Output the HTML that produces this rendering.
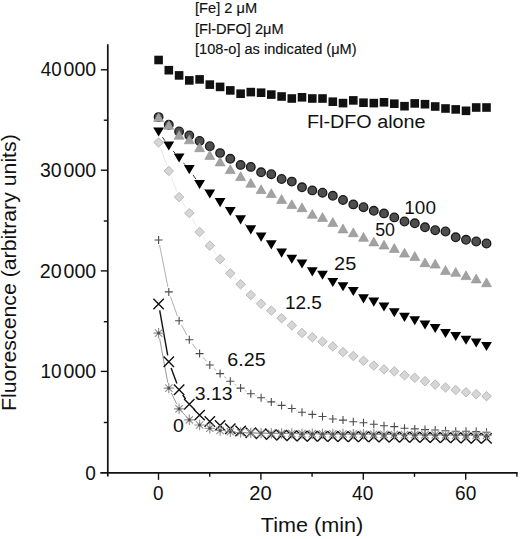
<!DOCTYPE html>
<html><head><meta charset="utf-8"><title>Fluorescence chart</title>
<style>
html,body{margin:0;padding:0;background:#fff;}
body{width:520px;height:539px;overflow:hidden;font-family:"Liberation Sans",sans-serif;}
svg{display:block;}
</style></head><body>
<svg width="520" height="539" viewBox="0 0 520 539">
<g stroke="#111" stroke-width="1.7" fill="none" stroke-linecap="butt"><line x1="107.8" y1="44.2" x2="107.8" y2="476.5"/><line x1="100.3" y1="472.85" x2="517.6" y2="472.85"/></g><g stroke="#111" stroke-width="1.4" fill="none"><line x1="103.8" y1="422.5" x2="107.8" y2="422.5"/><line x1="100.8" y1="371.4" x2="107.8" y2="371.4"/><line x1="103.8" y1="321.7" x2="107.8" y2="321.7"/><line x1="100.8" y1="270.9" x2="107.8" y2="270.9"/><line x1="103.8" y1="221.0" x2="107.8" y2="221.0"/><line x1="100.8" y1="170.2" x2="107.8" y2="170.2"/><line x1="103.8" y1="120.2" x2="107.8" y2="120.2"/><line x1="100.8" y1="69.8" x2="107.8" y2="69.8"/><line x1="158.5" y1="472.85" x2="158.5" y2="479.85"/><line x1="209.7" y1="472.85" x2="209.7" y2="476.85"/><line x1="260.9" y1="472.85" x2="260.9" y2="479.85"/><line x1="312.1" y1="472.85" x2="312.1" y2="476.85"/><line x1="363.3" y1="472.85" x2="363.3" y2="479.85"/><line x1="414.5" y1="472.85" x2="414.5" y2="476.85"/><line x1="465.7" y1="472.85" x2="465.7" y2="479.85"/><line x1="516.9" y1="472.85" x2="516.9" y2="476.85"/></g>
<g stroke="#e2e2e2" stroke-width="0.8" fill="none"><line x1="160.6" y1="148.1" x2="166.8" y2="165.4"/><line x1="171.0" y1="176.6" x2="176.9" y2="191.5"/><line x1="182.3" y1="202.2" x2="186.1" y2="208.0"/><line x1="192.2" y1="218.4" x2="196.7" y2="226.7"/><line x1="203.2" y1="236.8" x2="206.2" y2="240.9"/><line x1="213.5" y1="250.5" x2="216.4" y2="254.4"/><line x1="223.6" y1="264.1" x2="226.8" y2="268.4"/><line x1="234.4" y1="277.7" x2="236.5" y2="279.9"/><line x1="244.7" y1="288.6" x2="246.7" y2="290.7"/><line x1="255.4" y1="298.9" x2="256.5" y2="299.9"/><line x1="276.1" y1="314.2" x2="276.7" y2="314.6"/><line x1="286.5" y1="321.6" x2="286.9" y2="322.0"/><line x1="296.6" y1="329.0" x2="297.2" y2="329.4"/></g><g stroke="#222" stroke-width="0.9" fill="none"><line x1="162.4" y1="137.2" x2="165.0" y2="140.8"/><line x1="173.1" y1="150.9" x2="174.9" y2="153.0"/><line x1="183.4" y1="162.8" x2="185.1" y2="164.7"/><line x1="193.0" y1="174.9" x2="195.9" y2="179.1"/><line x1="204.3" y1="188.8" x2="205.1" y2="189.6"/><line x1="225.0" y1="206.9" x2="225.4" y2="207.2"/><line x1="245.2" y1="224.3" x2="246.2" y2="225.3"/></g><g stroke="#a8a8a8" stroke-width="0.9" fill="none"><line x1="159.6" y1="244.9" x2="167.9" y2="287.0"/><line x1="170.5" y1="296.6" x2="177.4" y2="316.0"/><line x1="181.5" y1="325.1" x2="187.0" y2="335.3"/><line x1="192.3" y1="343.7" x2="196.6" y2="349.6"/><line x1="202.9" y1="357.3" x2="206.5" y2="361.3"/><line x1="213.7" y1="368.2" x2="216.2" y2="370.4"/><line x1="224.1" y1="376.6" x2="226.3" y2="378.3"/><line x1="234.5" y1="384.1" x2="236.4" y2="385.3"/><line x1="244.9" y1="390.5" x2="246.4" y2="391.4"/><line x1="255.5" y1="395.6" x2="256.4" y2="395.9"/><line x1="265.7" y1="399.6" x2="266.7" y2="400.0"/><line x1="276.0" y1="403.5" x2="276.8" y2="403.8"/><line x1="286.3" y1="406.8" x2="287.0" y2="407.1"/><line x1="296.5" y1="410.2" x2="297.4" y2="410.6"/><line x1="327.4" y1="417.7" x2="327.9" y2="417.8"/></g><g stroke="#999" stroke-width="1.0" fill="none"><line x1="159.6" y1="338.5" x2="167.8" y2="382.7"/><line x1="171.3" y1="393.0" x2="176.7" y2="403.9"/><line x1="182.8" y1="412.8" x2="185.6" y2="415.8"/></g><g stroke="#111" stroke-width="1.4" fill="none"><line x1="159.7" y1="310.4" x2="167.7" y2="355.4"/><line x1="171.1" y1="367.9" x2="176.9" y2="383.6"/><line x1="182.8" y1="395.0" x2="185.6" y2="399.0"/><line x1="193.8" y1="409.0" x2="195.1" y2="410.4"/></g><g fill="#111"><rect x="154.3" y="55.7" width="8.6" height="8.6"/><rect x="164.5" y="65.9" width="8.6" height="8.6"/><rect x="174.8" y="71.1" width="8.6" height="8.6"/><rect x="185.0" y="76.1" width="8.6" height="8.6"/><rect x="195.3" y="75.1" width="8.6" height="8.6"/><rect x="205.5" y="80.3" width="8.6" height="8.6"/><rect x="215.8" y="82.6" width="8.6" height="8.6"/><rect x="226.0" y="86.1" width="8.6" height="8.6"/><rect x="236.3" y="89.4" width="8.6" height="8.6"/><rect x="246.5" y="87.8" width="8.6" height="8.6"/><rect x="256.8" y="88.4" width="8.6" height="8.6"/><rect x="267.0" y="90.3" width="8.6" height="8.6"/><rect x="277.3" y="92.2" width="8.6" height="8.6"/><rect x="287.5" y="94.2" width="8.6" height="8.6"/><rect x="297.7" y="93.0" width="8.6" height="8.6"/><rect x="308.0" y="94.2" width="8.6" height="8.6"/><rect x="318.2" y="94.2" width="8.6" height="8.6"/><rect x="328.5" y="97.4" width="8.6" height="8.6"/><rect x="338.7" y="98.8" width="8.6" height="8.6"/><rect x="349.0" y="96.1" width="8.6" height="8.6"/><rect x="359.2" y="98.4" width="8.6" height="8.6"/><rect x="369.5" y="98.8" width="8.6" height="8.6"/><rect x="379.7" y="98.0" width="8.6" height="8.6"/><rect x="390.0" y="99.4" width="8.6" height="8.6"/><rect x="400.2" y="101.9" width="8.6" height="8.6"/><rect x="410.4" y="99.1" width="8.6" height="8.6"/><rect x="420.7" y="99.9" width="8.6" height="8.6"/><rect x="430.9" y="102.2" width="8.6" height="8.6"/><rect x="441.2" y="104.2" width="8.6" height="8.6"/><rect x="451.4" y="105.1" width="8.6" height="8.6"/><rect x="461.7" y="106.5" width="8.6" height="8.6"/><rect x="471.9" y="103.2" width="8.6" height="8.6"/><rect x="482.2" y="103.2" width="8.6" height="8.6"/></g><g fill="#4e4e4e" stroke="#1a1a1a" stroke-width="1.3"><circle cx="158.6" cy="117.1" r="4.3"/><circle cx="168.8" cy="124.8" r="4.3"/><circle cx="179.1" cy="131.5" r="4.3"/><circle cx="189.3" cy="135.5" r="4.3"/><circle cx="199.6" cy="141.0" r="4.3"/><circle cx="209.8" cy="146.2" r="4.3"/><circle cx="220.1" cy="153.1" r="4.3"/><circle cx="230.3" cy="158.8" r="4.3"/><circle cx="240.6" cy="164.9" r="4.3"/><circle cx="250.8" cy="166.9" r="4.3"/><circle cx="261.1" cy="172.3" r="4.3"/><circle cx="271.3" cy="174.2" r="4.3"/><circle cx="281.6" cy="179.0" r="4.3"/><circle cx="291.8" cy="181.6" r="4.3"/><circle cx="302.0" cy="187.3" r="4.3"/><circle cx="312.3" cy="190.4" r="4.3"/><circle cx="322.5" cy="192.7" r="4.3"/><circle cx="332.8" cy="195.8" r="4.3"/><circle cx="343.0" cy="200.0" r="4.3"/><circle cx="353.3" cy="204.4" r="4.3"/><circle cx="363.5" cy="207.2" r="4.3"/><circle cx="373.8" cy="210.8" r="4.3"/><circle cx="384.0" cy="213.4" r="4.3"/><circle cx="394.3" cy="217.4" r="4.3"/><circle cx="404.5" cy="221.5" r="4.3"/><circle cx="414.8" cy="223.3" r="4.3"/><circle cx="425.0" cy="227.3" r="4.3"/><circle cx="435.2" cy="230.2" r="4.3"/><circle cx="445.5" cy="231.5" r="4.3"/><circle cx="455.7" cy="237.3" r="4.3"/><circle cx="466.0" cy="239.8" r="4.3"/><circle cx="476.2" cy="241.5" r="4.3"/><circle cx="486.5" cy="243.5" r="4.3"/></g><g fill="#a2a2a2" stroke="#909090" stroke-width="0.6"><path d="M158.6 112.8L163.6 121.6L153.6 121.6Z"/><path d="M168.8 120.5L173.8 129.3L163.8 129.3Z"/><path d="M179.1 130.4L184.1 139.2L174.1 139.2Z"/><path d="M189.3 135.0L194.3 143.8L184.3 143.8Z"/><path d="M199.6 142.9L204.6 151.7L194.6 151.7Z"/><path d="M209.8 150.6L214.8 159.4L204.8 159.4Z"/><path d="M220.1 157.1L225.1 165.9L215.1 165.9Z"/><path d="M230.3 164.8L235.3 173.6L225.3 173.6Z"/><path d="M240.6 171.8L245.6 180.6L235.6 180.6Z"/><path d="M250.8 178.4L255.8 187.2L245.8 187.2Z"/><path d="M261.1 184.8L266.1 193.6L256.1 193.6Z"/><path d="M271.3 188.7L276.3 197.5L266.3 197.5Z"/><path d="M281.6 194.6L286.6 203.4L276.6 203.4Z"/><path d="M291.8 199.8L296.8 208.6L286.8 208.6Z"/><path d="M302.0 202.9L307.0 211.7L297.0 211.7Z"/><path d="M312.3 209.5L317.3 218.3L307.3 218.3Z"/><path d="M322.5 212.6L327.5 221.4L317.5 221.4Z"/><path d="M332.8 217.6L337.8 226.4L327.8 226.4Z"/><path d="M343.0 224.1L348.0 232.9L338.0 232.9Z"/><path d="M353.3 227.9L358.3 236.7L348.3 236.7Z"/><path d="M363.5 232.5L368.5 241.3L358.5 241.3Z"/><path d="M373.8 237.1L378.8 245.9L368.8 245.9Z"/><path d="M384.0 240.2L389.0 249.0L379.0 249.0Z"/><path d="M394.3 243.6L399.3 252.4L389.3 252.4Z"/><path d="M404.5 248.3L409.5 257.1L399.5 257.1Z"/><path d="M414.8 251.6L419.8 260.4L409.8 260.4Z"/><path d="M425.0 257.9L430.0 266.7L420.0 266.7Z"/><path d="M435.2 259.3L440.2 268.1L430.2 268.1Z"/><path d="M445.5 265.6L450.5 274.4L440.5 274.4Z"/><path d="M455.7 267.5L460.7 276.3L450.7 276.3Z"/><path d="M466.0 270.8L471.0 279.6L461.0 279.6Z"/><path d="M476.2 274.1L481.2 282.9L471.2 282.9Z"/><path d="M486.5 277.9L491.5 286.7L481.5 286.7Z"/></g><g fill="#000"><path d="M153.2 127.5L164.0 127.5L158.6 136.6Z"/><path d="M163.4 141.5L174.2 141.5L168.8 150.6Z"/><path d="M173.7 153.4L184.5 153.4L179.1 162.5Z"/><path d="M183.9 165.1L194.7 165.1L189.3 174.2Z"/><path d="M194.2 179.9L205.0 179.9L199.6 189.0Z"/><path d="M204.4 189.5L215.2 189.5L209.8 198.6Z"/><path d="M214.7 198.1L225.5 198.1L220.1 207.2Z"/><path d="M224.9 207.0L235.7 207.0L230.3 216.1Z"/><path d="M235.2 215.3L246.0 215.3L240.6 224.4Z"/><path d="M245.4 225.3L256.2 225.3L250.8 234.4Z"/><path d="M255.7 232.6L266.5 232.6L261.1 241.7Z"/><path d="M265.9 240.3L276.7 240.3L271.3 249.4Z"/><path d="M276.2 248.6L287.0 248.6L281.6 257.7Z"/><path d="M286.4 254.7L297.2 254.7L291.8 263.8Z"/><path d="M296.6 259.4L307.4 259.4L302.0 268.5Z"/><path d="M306.9 267.3L317.7 267.3L312.3 276.4Z"/><path d="M317.1 270.7L327.9 270.7L322.5 279.8Z"/><path d="M327.4 278.0L338.2 278.0L332.8 287.1Z"/><path d="M337.6 282.2L348.4 282.2L343.0 291.3Z"/><path d="M347.9 287.0L358.7 287.0L353.3 296.1Z"/><path d="M358.1 294.3L368.9 294.3L363.5 303.4Z"/><path d="M368.4 297.6L379.2 297.6L373.8 306.7Z"/><path d="M378.6 302.4L389.4 302.4L384.0 311.5Z"/><path d="M388.9 308.2L399.7 308.2L394.3 317.3Z"/><path d="M399.1 312.8L409.9 312.8L404.5 321.9Z"/><path d="M409.4 316.2L420.1 316.2L414.8 325.3Z"/><path d="M419.6 320.4L430.4 320.4L425.0 329.5Z"/><path d="M429.8 324.0L440.6 324.0L435.2 333.1Z"/><path d="M440.1 328.9L450.9 328.9L445.5 338.0Z"/><path d="M450.3 331.9L461.1 331.9L455.7 341.0Z"/><path d="M460.6 335.7L471.4 335.7L466.0 344.8Z"/><path d="M470.8 338.4L481.6 338.4L476.2 347.5Z"/><path d="M481.1 342.0L491.9 342.0L486.5 351.1Z"/></g><g fill="#d6d6d6" stroke="#b3b3b3" stroke-width="0.9"><path d="M158.6 137.8L163.4 142.5L158.6 147.2L153.8 142.5Z"/><path d="M168.8 166.3L173.6 171.0L168.8 175.7L164.0 171.0Z"/><path d="M179.1 192.4L183.9 197.1L179.1 201.8L174.3 197.1Z"/><path d="M189.3 208.4L194.1 213.1L189.3 217.8L184.5 213.1Z"/><path d="M199.6 227.3L204.4 232.0L199.6 236.7L194.8 232.0Z"/><path d="M209.8 241.0L214.6 245.7L209.8 250.4L205.0 245.7Z"/><path d="M220.1 254.5L224.9 259.2L220.1 263.9L215.3 259.2Z"/><path d="M230.3 268.6L235.1 273.3L230.3 278.0L225.5 273.3Z"/><path d="M240.6 279.6L245.4 284.3L240.6 289.0L235.8 284.3Z"/><path d="M250.8 290.3L255.6 295.0L250.8 299.7L246.0 295.0Z"/><path d="M261.1 299.1L265.9 303.8L261.1 308.5L256.3 303.8Z"/><path d="M271.3 305.9L276.1 310.6L271.3 315.3L266.5 310.6Z"/><path d="M281.6 313.5L286.4 318.2L281.6 322.9L276.8 318.2Z"/><path d="M291.8 320.7L296.6 325.4L291.8 330.1L287.0 325.4Z"/><path d="M302.0 328.3L306.8 333.0L302.0 337.7L297.2 333.0Z"/><path d="M312.3 332.5L317.1 337.2L312.3 341.9L307.5 337.2Z"/><path d="M322.5 337.0L327.3 341.7L322.5 346.4L317.7 341.7Z"/><path d="M332.8 341.8L337.6 346.5L332.8 351.2L328.0 346.5Z"/><path d="M343.0 347.4L347.8 352.1L343.0 356.8L338.2 352.1Z"/><path d="M353.3 351.3L358.1 356.0L353.3 360.7L348.5 356.0Z"/><path d="M363.5 356.1L368.3 360.8L363.5 365.5L358.7 360.8Z"/><path d="M373.8 360.9L378.6 365.6L373.8 370.3L369.0 365.6Z"/><path d="M384.0 364.7L388.8 369.4L384.0 374.1L379.2 369.4Z"/><path d="M394.3 366.6L399.1 371.3L394.3 376.0L389.5 371.3Z"/><path d="M404.5 370.6L409.3 375.3L404.5 380.0L399.7 375.3Z"/><path d="M414.8 373.1L419.6 377.8L414.8 382.5L409.9 377.8Z"/><path d="M425.0 376.5L429.8 381.2L425.0 385.9L420.2 381.2Z"/><path d="M435.2 379.9L440.0 384.6L435.2 389.3L430.4 384.6Z"/><path d="M445.5 382.8L450.3 387.5L445.5 392.2L440.7 387.5Z"/><path d="M455.7 385.3L460.5 390.0L455.7 394.7L450.9 390.0Z"/><path d="M466.0 387.6L470.8 392.3L466.0 397.0L461.2 392.3Z"/><path d="M476.2 389.5L481.0 394.2L476.2 398.9L471.4 394.2Z"/><path d="M486.5 391.5L491.3 396.2L486.5 400.9L481.7 396.2Z"/></g><g stroke="#4a4a4a" stroke-width="1.1"><path d="M154.6 240.0H162.6M158.6 236.0V244.0"/><path d="M164.8 291.9H172.8M168.8 287.9V295.9"/><path d="M175.1 320.7H183.1M179.1 316.7V324.7"/><path d="M185.3 339.7H193.3M189.3 335.7V343.7"/><path d="M195.6 353.6H203.6M199.6 349.6V357.6"/><path d="M205.8 365.0H213.8M209.8 361.0V369.0"/><path d="M216.1 373.6H224.1M220.1 369.6V377.6"/><path d="M226.3 381.3H234.3M230.3 377.3V385.3"/><path d="M236.6 388.1H244.6M240.6 384.1V392.1"/><path d="M246.8 393.8H254.8M250.8 389.8V397.8"/><path d="M257.1 397.7H265.1M261.1 393.7V401.7"/><path d="M267.3 401.9H275.3M271.3 397.9V405.9"/><path d="M277.6 405.4H285.6M281.6 401.4V409.4"/><path d="M287.8 408.5H295.8M291.8 404.5V412.5"/><path d="M298.0 412.3H306.0M302.0 408.3V416.3"/><path d="M308.3 414.4H316.3M312.3 410.4V418.4"/><path d="M318.5 416.5H326.5M322.5 412.5V420.5"/><path d="M328.8 419.0H336.8M332.8 415.0V423.0"/><path d="M339.0 420.1H347.0M343.0 416.1V424.1"/><path d="M349.3 421.8H357.3M353.3 417.8V425.8"/><path d="M359.5 422.8H367.5M363.5 418.8V426.8"/><path d="M369.8 424.3H377.8M373.8 420.3V428.3"/><path d="M380.0 425.8H388.0M384.0 421.8V429.8"/><path d="M390.3 426.6H398.3M394.3 422.6V430.6"/><path d="M400.5 428.2H408.5M404.5 424.2V432.2"/><path d="M410.8 428.9H418.8M414.8 424.9V432.9"/><path d="M421.0 429.6H429.0M425.0 425.6V433.6"/><path d="M431.2 430.0H439.2M435.2 426.0V434.0"/><path d="M441.5 430.7H449.5M445.5 426.7V434.7"/><path d="M451.7 431.2H459.7M455.7 427.2V435.2"/><path d="M462.0 431.2H470.0M466.0 427.2V435.2"/><path d="M472.2 431.6H480.2M476.2 427.6V435.6"/><path d="M482.5 432.3H490.5M486.5 428.3V436.3"/></g><g stroke="#111" stroke-width="1.4"><path d="M153.4 298.8L163.8 309.2M153.4 309.2L163.8 298.8"/><path d="M163.6 356.6L174.0 367.0M163.6 367.0L174.0 356.6"/><path d="M173.9 384.5L184.3 394.9M173.9 394.9L184.3 384.5"/><path d="M184.1 399.1L194.5 409.5M184.1 409.5L194.5 399.1"/><path d="M194.4 409.9L204.8 420.3M194.4 420.3L204.8 409.9"/><path d="M204.6 416.3L215.0 426.7M204.6 426.7L215.0 416.3"/><path d="M214.9 420.3L225.3 430.7M214.9 430.7L225.3 420.3"/><path d="M225.1 423.6L235.5 434.0M225.1 434.0L235.5 423.6"/><path d="M235.4 425.8L245.8 436.2M235.4 436.2L245.8 425.8"/><path d="M245.6 427.6L256.0 438.0M245.6 438.0L256.0 427.6"/><path d="M255.9 428.6L266.3 439.0M255.9 439.0L266.3 428.6"/><path d="M266.1 429.4L276.5 439.8M266.1 439.8L276.5 429.4"/><path d="M276.4 430.1L286.8 440.5M276.4 440.5L286.8 430.1"/><path d="M286.6 430.6L297.0 441.0M286.6 441.0L297.0 430.6"/><path d="M296.8 430.9L307.2 441.3M296.8 441.3L307.2 430.9"/><path d="M307.1 431.1L317.5 441.5M307.1 441.5L317.5 431.1"/><path d="M317.3 431.2L327.7 441.6M317.3 441.6L327.7 431.2"/><path d="M327.6 431.3L338.0 441.7M327.6 441.7L338.0 431.3"/><path d="M337.8 431.4L348.2 441.8M337.8 441.8L348.2 431.4"/><path d="M348.1 431.5L358.5 441.9M348.1 441.9L358.5 431.5"/><path d="M358.3 431.6L368.7 442.0M358.3 442.0L368.7 431.6"/><path d="M368.6 431.7L379.0 442.1M368.6 442.1L379.0 431.7"/><path d="M378.8 431.8L389.2 442.2M378.8 442.2L389.2 431.8"/><path d="M389.1 431.9L399.5 442.3M389.1 442.3L399.5 431.9"/><path d="M399.3 432.0L409.7 442.4M399.3 442.4L409.7 432.0"/><path d="M409.6 432.1L419.9 442.5M409.6 442.5L419.9 432.1"/><path d="M419.8 432.2L430.2 442.6M419.8 442.6L430.2 432.2"/><path d="M430.0 432.3L440.4 442.7M430.0 442.7L440.4 432.3"/><path d="M440.3 432.4L450.7 442.8M440.3 442.8L450.7 432.4"/><path d="M450.5 432.6L460.9 443.0M450.5 443.0L460.9 432.6"/><path d="M460.8 432.8L471.2 443.2M460.8 443.2L471.2 432.8"/><path d="M471.0 433.0L481.4 443.4M471.0 443.4L481.4 433.0"/><path d="M481.3 433.2L491.7 443.6M481.3 443.6L491.7 433.2"/></g><g stroke="#939393" stroke-width="1.15"><path d="M153.4 333.1H163.8M158.6 327.9V338.3M154.9 329.4L162.3 336.8M154.9 336.8L162.3 329.4"/><path d="M163.6 388.1H174.0M168.8 382.9V393.3M165.2 384.4L172.5 391.8M165.2 391.8L172.5 384.4"/><path d="M173.9 408.8H184.3M179.1 403.6V414.0M175.4 405.1L182.8 412.5M175.4 412.5L182.8 405.1"/><path d="M184.1 419.8H194.5M189.3 414.6V425.0M185.7 416.1L193.0 423.5M185.7 423.5L193.0 416.1"/><path d="M194.4 425.0H204.8M199.6 419.8V430.2M195.9 421.3L203.3 428.7M195.9 428.7L203.3 421.3"/><path d="M204.6 428.2H215.0M209.8 423.0V433.4M206.2 424.5L213.5 431.9M206.2 431.9L213.5 424.5"/><path d="M214.9 430.5H225.3M220.1 425.3V435.7M216.4 426.8L223.8 434.2M216.4 434.2L223.8 426.8"/><path d="M225.1 431.7H235.5M230.3 426.5V436.9M226.6 428.0L234.0 435.4M226.6 435.4L234.0 428.0"/><path d="M235.4 432.5H245.8M240.6 427.3V437.7M236.9 428.8L244.2 436.2M236.9 436.2L244.2 428.8"/><path d="M245.6 432.9H256.0M250.8 427.7V438.1M247.1 429.2L254.5 436.6M247.1 436.6L254.5 429.2"/><path d="M255.9 433.1H266.3M261.1 427.9V438.3M257.4 429.4L264.7 436.8M257.4 436.8L264.7 429.4"/><path d="M266.1 433.3H276.5M271.3 428.1V438.5M267.6 429.6L275.0 437.0M267.6 437.0L275.0 429.6"/><path d="M276.4 433.4H286.8M281.6 428.2V438.6M277.9 429.7L285.2 437.1M277.9 437.1L285.2 429.7"/><path d="M286.6 433.5H297.0M291.8 428.3V438.7M288.1 429.8L295.5 437.2M288.1 437.2L295.5 429.8"/><path d="M296.8 433.6H307.2M302.0 428.4V438.8M298.4 429.9L305.7 437.3M298.4 437.3L305.7 429.9"/><path d="M307.1 433.7H317.5M312.3 428.5V438.9M308.6 430.0L316.0 437.4M308.6 437.4L316.0 430.0"/><path d="M317.3 433.8H327.7M322.5 428.6V439.0M318.9 430.1L326.2 437.5M318.9 437.5L326.2 430.1"/><path d="M327.6 433.9H338.0M332.8 428.7V439.1M329.1 430.2L336.5 437.6M329.1 437.6L336.5 430.2"/><path d="M337.8 434.0H348.2M343.0 428.8V439.2M339.4 430.3L346.7 437.7M339.4 437.7L346.7 430.3"/><path d="M348.1 434.1H358.5M353.3 428.9V439.3M349.6 430.4L357.0 437.8M349.6 437.8L357.0 430.4"/><path d="M358.3 434.2H368.7M363.5 429.0V439.4M359.8 430.5L367.2 437.9M359.8 437.9L367.2 430.5"/><path d="M368.6 434.3H379.0M373.8 429.1V439.5M370.1 430.6L377.4 438.0M370.1 438.0L377.4 430.6"/><path d="M378.8 434.4H389.2M384.0 429.2V439.6M380.3 430.7L387.7 438.1M380.3 438.1L387.7 430.7"/><path d="M389.1 434.5H399.5M394.3 429.3V439.7M390.6 430.8L397.9 438.2M390.6 438.2L397.9 430.8"/><path d="M399.3 434.6H409.7M404.5 429.4V439.8M400.8 430.9L408.2 438.3M400.8 438.3L408.2 430.9"/><path d="M409.6 434.7H419.9M414.8 429.5V439.9M411.1 431.0L418.4 438.4M411.1 438.4L418.4 431.0"/><path d="M419.8 434.8H430.2M425.0 429.6V440.0M421.3 431.1L428.7 438.5M421.3 438.5L428.7 431.1"/><path d="M430.0 434.9H440.4M435.2 429.7V440.1M431.6 431.2L438.9 438.6M431.6 438.6L438.9 431.2"/><path d="M440.3 435.0H450.7M445.5 429.8V440.2M441.8 431.3L449.2 438.7M441.8 438.7L449.2 431.3"/><path d="M450.5 435.1H460.9M455.7 429.9V440.3M452.1 431.4L459.4 438.8M452.1 438.8L459.4 431.4"/><path d="M460.8 435.2H471.2M466.0 430.0V440.4M462.3 431.5L469.7 438.9M462.3 438.9L469.7 431.5"/><path d="M471.0 435.3H481.4M476.2 430.1V440.5M472.5 431.6L479.9 439.0M472.5 439.0L479.9 431.6"/><path d="M481.3 435.4H491.7M486.5 430.2V440.6M482.8 431.7L490.1 439.1M482.8 439.1L490.1 431.7"/></g><g fill="#505050"><circle cx="158.6" cy="333.1" r="1.5"/><circle cx="168.8" cy="388.1" r="1.5"/><circle cx="179.1" cy="408.8" r="1.5"/><circle cx="189.3" cy="419.8" r="1.5"/><circle cx="199.6" cy="425.0" r="1.5"/><circle cx="209.8" cy="428.2" r="1.5"/><circle cx="220.1" cy="430.5" r="1.5"/><circle cx="230.3" cy="431.7" r="1.5"/><circle cx="240.6" cy="432.5" r="1.5"/><circle cx="250.8" cy="432.9" r="1.5"/><circle cx="261.1" cy="433.1" r="1.5"/><circle cx="271.3" cy="433.3" r="1.5"/><circle cx="281.6" cy="433.4" r="1.5"/><circle cx="291.8" cy="433.5" r="1.5"/><circle cx="302.0" cy="433.6" r="1.5"/><circle cx="312.3" cy="433.7" r="1.5"/><circle cx="322.5" cy="433.8" r="1.5"/><circle cx="332.8" cy="433.9" r="1.5"/><circle cx="343.0" cy="434.0" r="1.5"/><circle cx="353.3" cy="434.1" r="1.5"/><circle cx="363.5" cy="434.2" r="1.5"/><circle cx="373.8" cy="434.3" r="1.5"/><circle cx="384.0" cy="434.4" r="1.5"/><circle cx="394.3" cy="434.5" r="1.5"/><circle cx="404.5" cy="434.6" r="1.5"/><circle cx="414.8" cy="434.7" r="1.5"/><circle cx="425.0" cy="434.8" r="1.5"/><circle cx="435.2" cy="434.9" r="1.5"/><circle cx="445.5" cy="435.0" r="1.5"/><circle cx="455.7" cy="435.1" r="1.5"/><circle cx="466.0" cy="435.2" r="1.5"/><circle cx="476.2" cy="435.3" r="1.5"/><circle cx="486.5" cy="435.4" r="1.5"/></g>
<g font-family="Liberation Sans, sans-serif" fill="#111"><text x="195.06" y="13.40" font-size="14" textLength="62.03" lengthAdjust="spacingAndGlyphs" stroke="#111" stroke-width="0.15">[Fe] 2 μM</text><text x="195.06" y="33.70" font-size="14" textLength="88.55" lengthAdjust="spacingAndGlyphs" stroke="#111" stroke-width="0.15">[Fl-DFO] 2μM</text><text x="195.06" y="53.90" font-size="14" textLength="161.53" lengthAdjust="spacingAndGlyphs" stroke="#111" stroke-width="0.15">[108-o] as indicated (μM)</text><text x="40.80" y="76.40" font-size="19.5" textLength="20.88" lengthAdjust="spacingAndGlyphs">40</text><text x="40.00" y="176.80" font-size="19.5" textLength="21.70" lengthAdjust="spacingAndGlyphs">30</text><text x="39.79" y="277.50" font-size="19.5" textLength="21.92" lengthAdjust="spacingAndGlyphs">20</text><text x="40.55" y="378.00" font-size="19.5" textLength="21.13" lengthAdjust="spacingAndGlyphs">10</text><text x="63.60" y="76.40" font-size="19.5" textLength="32.55" lengthAdjust="spacingAndGlyphs">000</text><text x="63.60" y="176.80" font-size="19.5" textLength="32.55" lengthAdjust="spacingAndGlyphs">000</text><text x="63.60" y="277.50" font-size="19.5" textLength="32.55" lengthAdjust="spacingAndGlyphs">000</text><text x="63.60" y="378.00" font-size="19.5" textLength="32.55" lengthAdjust="spacingAndGlyphs">000</text><text x="85.22" y="479.90" font-size="19.5" textLength="10.62" lengthAdjust="spacingAndGlyphs">0</text><text x="152.93" y="499.80" font-size="19.5" textLength="10.50" lengthAdjust="spacingAndGlyphs">0</text><text x="249.16" y="499.80" font-size="19.5" textLength="22.46" lengthAdjust="spacingAndGlyphs">20</text><text x="352.10" y="499.80" font-size="19.5" textLength="21.29" lengthAdjust="spacingAndGlyphs">40</text><text x="455.02" y="499.80" font-size="19.5" textLength="21.27" lengthAdjust="spacingAndGlyphs">60</text><text x="260.80" y="532.10" font-size="19.5" textLength="102.49" lengthAdjust="spacingAndGlyphs">Time (min)</text><text x="307.01" y="128.20" font-size="18" textLength="118.53" lengthAdjust="spacingAndGlyphs">Fl-DFO alone</text><text x="404.34" y="213.70" font-size="17.8" textLength="31.58" lengthAdjust="spacingAndGlyphs">100</text><text x="375.20" y="236.20" font-size="17.8" textLength="19.78" lengthAdjust="spacingAndGlyphs">50</text><text x="334.08" y="270.00" font-size="17.8" textLength="22.20" lengthAdjust="spacingAndGlyphs">25</text><text x="284.93" y="309.10" font-size="17.8" textLength="37.02" lengthAdjust="spacingAndGlyphs">12.5</text><text x="227.39" y="366.00" font-size="17.8" textLength="38.28" lengthAdjust="spacingAndGlyphs">6.25</text><text x="194.71" y="400.00" font-size="17.8" textLength="37.86" lengthAdjust="spacingAndGlyphs">3.13</text><text x="173.10" y="431.50" font-size="17.8" textLength="10.88" lengthAdjust="spacingAndGlyphs">0</text><text transform="translate(16.4,410.95) rotate(-90)" x="0" y="0" font-size="19.8" textLength="276.70" lengthAdjust="spacingAndGlyphs">Fluorescence (arbitrary units)</text></g>
</svg>
</body></html>
